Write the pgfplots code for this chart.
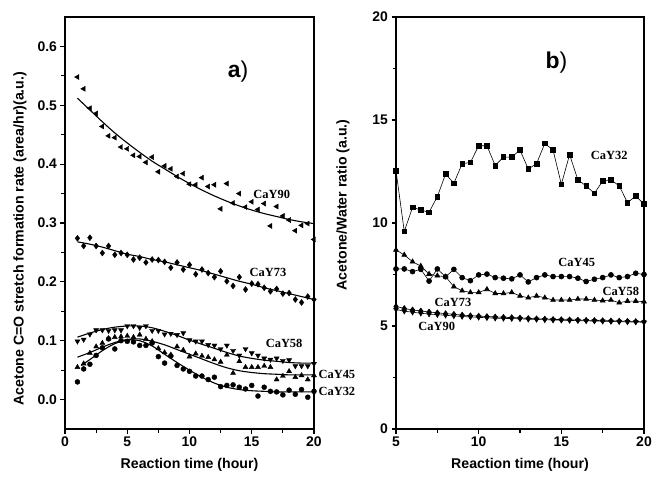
\documentclass[border=0pt]{standalone}
\usepackage{fontspec}
\setmainfont{Liberation Sans}
\newfontfamily\tnr{Liberation Serif}
\usepackage{pgfplots}
\pgfplotsset{compat=1.18}
\pgfplotsset{
 myax/.style={
  scale only axis, height=412bp,
  axis line style={line width=1.6bp},
  tick align=outside, xtick pos=bottom, ytick pos=left,
  major tick length=4.5bp, minor tick length=3.5bp,
  every tick/.style={line width=1.2bp, black},
  minor tick num=1,
  tick label style={font=\fontsize{14}{16}\selectfont\bfseries},
  label style={font=\fontsize{14.2}{17}\selectfont\bfseries},
  /pgf/number format/assume math mode=true,
  clip=false,
 },
 dat/.style={only marks, mark size=2.9bp, mark options={fill=black, draw=black}},
 myfit/.style={no marks, smooth, line width=1.1bp, black},
 ln/.style={black, line width=0.6bp, mark size=2.5bp, mark options={fill=black, solid}},
}
\tikzset{lab/.style={font=\tnr\bfseries\fontsize{12.5}{14}\selectfont}}
\begin{document}
\begin{tikzpicture}
\path[use as bounding box] (0,0) rectangle (652bp,482bp);
% ---------- panel a ----------
\begin{axis}[myax, at={(65bp,53bp)}, anchor=south west, width=249bp,
  xmin=0, xmax=20, ymin=-0.05, ymax=0.65,
  xtick={0,5,10,15,20}, ytick={0,0.1,0.2,0.3,0.4,0.5,0.6},
  yticklabel style={/pgf/number format/.cd, fixed, fixed zerofill, precision=1},
  xlabel={Reaction time (hour)},
  xlabel style={at={(axis description cs:0.5,0)}, anchor=center, yshift=-36bp},
  ylabel={Acetone C=O stretch formation rate (area/hr)(a.u.)},
  ylabel style={at={(axis description cs:-0.181,0.462)}, anchor=center},
]
% CaY90
\addplot[dat, mark=triangle*, mark options={rotate=90}] coordinates {
(1,0.548)(1.5,0.528)(2,0.495)(2.5,0.486)(3,0.464)(3.5,0.448)(4,0.445)(4.5,0.429)
(5,0.426)(5.5,0.415)(6,0.413)(6.5,0.403)(7,0.412)(7.5,0.387)(8,0.397)(8.5,0.392)
(9,0.379)(9.5,0.384)(10,0.366)(10.5,0.365)(11,0.377)(11.5,0.362)(12,0.365)(12.5,0.324)
(13,0.367)(13.5,0.334)(14,0.350)(14.5,0.327)(15,0.336)(15.5,0.323)(16,0.333)(16.5,0.295)
(17,0.328)(17.5,0.312)(18,0.305)(18.5,0.287)(19,0.296)(19.5,0.299)(20,0.272)};
\addplot[myfit] coordinates {
(1,0.512)(2,0.492)(3,0.472)(4,0.453)(5,0.436)(6,0.420)(7,0.405)(8,0.392)(9,0.379)(10,0.367)
(11,0.356)(12,0.346)(13,0.337)(14,0.329)(15,0.322)(16,0.316)(17,0.311)(18,0.306)(19,0.302)(20,0.299)};
% CaY73
\addplot[dat, mark=diamond*, mark size=3bp] coordinates {
(1,0.274)(1.5,0.261)(2,0.275)(2.5,0.261)(3,0.249)(3.5,0.261)(4,0.246)(4.5,0.249)
(5,0.246)(5.5,0.238)(6,0.241)(6.5,0.233)(7,0.238)(7.5,0.237)(8,0.234)(8.5,0.224)
(9,0.233)(9.5,0.221)(10,0.229)(10.5,0.213)(11,0.221)(11.5,0.215)(12,0.208)(12.5,0.218)
(13,0.201)(13.5,0.193)(14,0.208)(14.5,0.187)(15,0.197)(15.5,0.196)(16,0.190)(16.5,0.184)
(17,0.188)(17.5,0.180)(18,0.181)(18.5,0.170)(19,0.165)(19.5,0.175)(20,0.170)};
\addplot[myfit] coordinates {
(1,0.268)(2,0.264)(3,0.259)(4,0.253)(5,0.247)(6,0.243)(7,0.238)(8,0.234)(9,0.229)(10,0.224)
(11,0.219)(12,0.213)(13,0.207)(14,0.201)(15,0.196)(16,0.190)(17,0.185)(18,0.180)(19,0.175)(20,0.170)};
% CaY58
\addplot[dat, mark=triangle*, mark options={rotate=180}] coordinates {
(1,0.099)(1.5,0.102)(2,0.111)(2.5,0.118)(3,0.118)(3.5,0.117)(4,0.118)(4.5,0.118)
(5,0.125)(5.5,0.125)(6,0.122)(6.5,0.125)(7,0.117)(7.5,0.117)(8,0.111)(8.5,0.112)
(9,0.110)(9.5,0.113)(10,0.101)(10.5,0.099)(11,0.099)(11.5,0.093)(12,0.092)(12.5,0.086)
(13,0.092)(13.5,0.083)(14,0.075)(14.5,0.086)(15,0.079)(15.5,0.075)(16,0.070)(16.5,0.068)
(17,0.070)(17.5,0.066)(18,0.067)(18.5,0.057)(19,0.057)(19.5,0.057)(20,0.061)};
\addplot[myfit] coordinates {
(1,0.106)(2,0.113)(3,0.119)(4,0.123)(5,0.125)(6,0.125)(7,0.122)(8,0.116)(9,0.109)(10,0.101)
(11,0.094)(12,0.087)(13,0.080)(14,0.074)(15,0.070)(16,0.067)(17,0.065)(18,0.063)(19,0.062)(20,0.062)};
% CaY45
\addplot[dat, mark=triangle*] coordinates {
(1,0.055)(1.5,0.061)(2,0.079)(2.5,0.090)(3,0.096)(3.5,0.104)(4,0.106)(4.5,0.107)
(5,0.108)(5.5,0.106)(6,0.110)(6.5,0.103)(7,0.099)(7.5,0.087)(8,0.080)(8.5,0.076)
(9,0.090)(9.5,0.084)(10,0.073)(10.5,0.078)(11,0.074)(11.5,0.072)(12,0.068)(12.5,0.064)
(13,0.076)(13.5,0.045)(14,0.065)(14.5,0.055)(15,0.055)(15.5,0.055)(16,0.057)(16.5,0.055)
(17,0.034)(17.5,0.040)(18,0.048)(18.5,0.038)(19,0.041)(19.5,0.034)(20,0.041)};
\addplot[myfit] coordinates {
(1,0.072)(2,0.080)(3,0.089)(4,0.097)(5,0.102)(6,0.103)(7,0.099)(8,0.093)(9,0.085)(10,0.077)
(11,0.069)(12,0.061)(13,0.054)(14,0.049)(15,0.046)(16,0.044)(17,0.043)(18,0.042)(19,0.042)(20,0.042)};
% CaY32
\addplot[dat, mark=*, mark size=2.5bp] coordinates {
(1,0.030)(1.5,0.052)(2,0.060)(2.5,0.075)(3,0.088)(3.5,0.103)(4,0.086)(4.5,0.100)
(5,0.099)(5.5,0.098)(6,0.092)(6.5,0.092)(7,0.096)(7.5,0.073)(8,0.062)(8.5,0.074)
(9,0.058)(9.5,0.052)(10,0.048)(10.5,0.040)(11,0.040)(11.5,0.034)(12,0.038)(12.5,0.022)
(13,0.024)(13.5,0.025)(14,0.021)(14.5,0.018)(15,0.024)(15.5,0.006)(16,0.021)(16.5,0.014)
(17,0.013)(17.5,0.008)(18,0.016)(18.5,0.009)(19,0.017)(19.5,0.004)(20,0.014)};
\addplot[myfit] coordinates {
(1.3,0.058)(2,0.068)(3,0.083)(4,0.095)(5,0.101)(6,0.100)(7,0.091)(8,0.077)(9,0.063)(10,0.050)
(11,0.038)(12,0.028)(13,0.021)(14,0.017)(15,0.015)(16,0.014)(17,0.013)(18,0.013)(19,0.013)(20,0.013)};
\node[lab] at (axis cs:16.6,0.349) {CaY90};
\node[lab] at (axis cs:16.3,0.216) {CaY73};
\node[lab] at (axis cs:17.6,0.095) {CaY58};
\node[lab, anchor=west, inner sep=0pt] at (axis cs:20.35,0.043) {CaY45};
\node[lab, anchor=west, inner sep=0pt] at (axis cs:20.35,0.014) {CaY32};
\node[font=\fontsize{23}{26}\selectfont] at (axis cs:13.9,0.557) {\bfseries a\mdseries)};
\end{axis}
% ---------- panel b ----------
\begin{axis}[myax, at={(396bp,53bp)}, anchor=south west, width=248bp,
  xmin=5, xmax=20, ymin=0, ymax=20,
  xtick={5,10,15,20}, ytick={0,5,10,15,20},
  xlabel={Reaction time (hour)},
  xlabel style={at={(axis description cs:0.5,0)}, anchor=center, yshift=-36bp},
  ylabel={Acetone/Water ratio (a.u.)},
  ylabel style={at={(axis description cs:-0.214,0.544)}, anchor=center},
]
% CaY32
\addplot[ln, mark=square*, mark size=2.3bp] coordinates {
(5,12.54)(5.5,9.59)(6,10.76)(6.5,10.63)(7,10.52)(7.5,11.28)(8,12.38)(8.5,11.93)
(9,12.88)(9.5,12.94)(10,13.75)(10.5,13.75)(11,12.79)(11.5,13.20)(12,13.20)(12.5,13.54)
(13,12.62)(13.5,12.88)(14,13.86)(14.5,13.54)(15,11.88)(15.5,13.32)(16,12.09)(16.5,11.80)
(17,11.44)(17.5,12.04)(18,12.10)(18.5,11.80)(19,10.99)(19.5,11.31)(20,10.92)};
% CaY45
\addplot[ln, mark=*] coordinates {
(5,7.77)(5.5,7.77)(6,7.64)(6.5,7.75)(7,7.18)(7.5,7.77)(8,7.39)(8.5,7.75)
(9,7.35)(9.5,7.20)(10,7.48)(10.5,7.52)(11,7.35)(11.5,7.32)(12,7.29)(12.5,7.48)
(13,7.14)(13.5,7.35)(14,7.48)(14.5,7.40)(15,7.40)(15.5,7.40)(16,7.32)(16.5,7.16)
(17,7.27)(17.5,7.35)(18,7.48)(18.5,7.35)(19,7.40)(19.5,7.56)(20,7.50)};
% CaY58
\addplot[ln, mark=triangle*, mark size=2.8bp] coordinates {
(5,8.69)(5.5,8.45)(6,8.12)(6.5,7.91)(7,7.52)(7.5,7.44)(8,7.39)(8.5,6.91)
(9,6.71)(9.5,6.63)(10,6.63)(10.5,6.78)(11,6.58)(11.5,6.58)(12,6.63)(12.5,6.46)
(13,6.37)(13.5,6.46)(14,6.37)(14.5,6.26)(15,6.26)(15.5,6.26)(16,6.31)(16.5,6.31)
(17,6.26)(17.5,6.23)(18,6.26)(18.5,6.13)(19,6.21)(19.5,6.21)(20,6.18)};
% CaY73
\addplot[ln, mark=diamond*, mark size=2.9bp] coordinates {
(5,5.95)(5.5,5.85)(6,5.78)(6.5,5.73)(7,5.68)(7.5,5.64)(8,5.60)(8.5,5.57)
(9,5.53)(9.5,5.50)(10,5.48)(10.5,5.46)(11,5.44)(11.5,5.42)(12,5.41)(12.5,5.39)
(13,5.37)(13.5,5.35)(14,5.34)(14.5,5.32)(15,5.31)(15.5,5.30)(16,5.29)(16.5,5.28)
(17,5.27)(17.5,5.26)(18,5.25)(18.5,5.24)(19,5.23)(19.5,5.22)(20,5.21)};
% CaY90
\addplot[ln, mark=triangle*, mark size=2.8bp, mark options={rotate=180}] coordinates {
(5,5.80)(5.5,5.72)(6,5.67)(6.5,5.62)(7,5.58)(7.5,5.55)(8,5.52)(8.5,5.49)
(9,5.46)(9.5,5.44)(10,5.42)(10.5,5.40)(11,5.38)(11.5,5.37)(12,5.36)(12.5,5.35)
(13,5.33)(13.5,5.32)(14,5.30)(14.5,5.29)(15,5.28)(15.5,5.27)(16,5.26)(16.5,5.25)
(17,5.24)(17.5,5.23)(18,5.22)(18.5,5.21)(19,5.20)(19.5,5.19)(20,5.18)};
\node[lab] at (axis cs:17.9,13.3) {CaY32};
\node[lab] at (axis cs:15.93,8.1) {CaY45};
\node[lab] at (axis cs:18.6,6.7) {CaY58};
\node[lab] at (axis cs:8.45,6.13) {CaY73};
\node[lab] at (axis cs:7.46,4.97) {CaY90};
\node[font=\fontsize{23}{26}\selectfont] at (axis cs:14.7,17.77) {\bfseries b\mdseries)};
\end{axis}
\end{tikzpicture}
\end{document}
